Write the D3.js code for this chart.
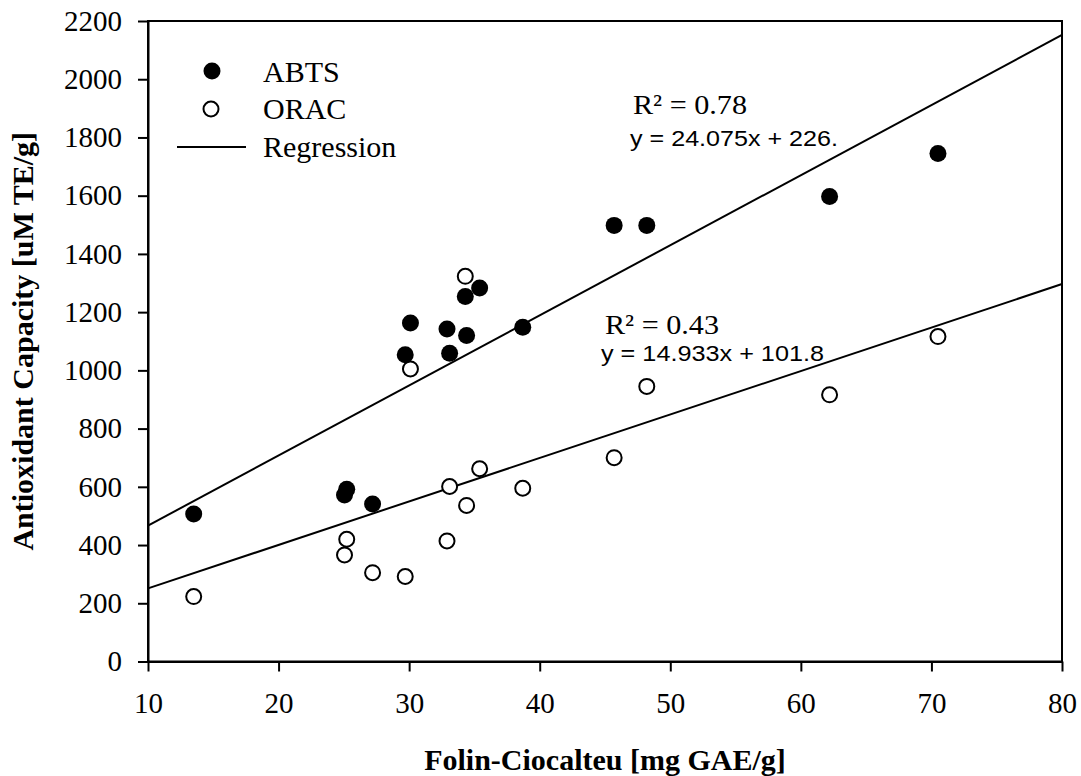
<!DOCTYPE html>
<html>
<head>
<meta charset="utf-8">
<script src="https://cdn.jsdelivr.net/npm/d3@7"></script>
<style>
  body { margin: 0; background: #fff; }
  svg { display: block; }
</style>
</head>
<body>
<svg width="1081" height="776"></svg>
<script>
// Folin-Ciocalteu values (x), one per sample
let fc = [13.5, 25.05, 25.22, 27.2, 29.7, 30.1, 32.9, 33.1, 34.3, 34.4, 35.4, 38.7, 45.7, 48.2, 62.2, 70.5];
// antioxidant capacity per method
let abts = [507, 572, 592, 541, 1054, 1163, 1142, 1059, 1254, 1120, 1283, 1148, 1498, 1498, 1597, 1745];
let orac = [223, 366, 420, 305, 292, 1005, 414, 601, 1323, 536, 662, 595, 700, 945, 916, 1116];

// regression fits as printed on the chart
let slopes = [24.075, 14.933];
let intercepts = [226, 101.8];
let r2Labels = ['R² = 0.78', 'R² = 0.43'];
let eqLabels = ['y = 24.075x + 226.', 'y = 14.933x + 101.8'];

let xTicks = [10, 20, 30, 40, 50, 60, 70, 80];
let yTicks = d3.range(0, 2201, 200);

let svg = d3.select('svg');
let serif = 'Liberation Serif, Times New Roman, serif';
let sans = 'Liberation Sans, Arial, sans-serif';

let x = d3.scaleLinear().domain([10, 80]).range([148, 1062]);
let y = d3.scaleLinear().domain([0, 2200]).range([661.5, 21]);

// frame
svg.append('rect')
  .attr('x', x(10))
  .attr('y', y(2200))
  .attr('width', x(80) - x(10))
  .attr('height', y(0) - y(2200))
  .attr('fill', 'none')
  .attr('stroke', 'black')
  .attr('stroke-width', 2);

let xAxis = svg.append('g')
  .attr('transform', 'translate(0,' + y(0) + ')')
  .call(d3.axisBottom(x).tickValues(xTicks).tickFormat(d3.format('d'))
    .tickSize(10).tickSizeOuter(0).tickPadding(21));
let yAxis = svg.append('g')
  .attr('transform', 'translate(' + x(10) + ',0)')
  .call(d3.axisLeft(y).tickValues(yTicks).tickFormat(d3.format('d'))
    .tickSize(10).tickSizeOuter(0).tickPadding(16));

[xAxis, yAxis].forEach(function(a) {
  a.attr('font-family', serif).attr('font-size', 29);
  a.selectAll('path, line').attr('stroke', 'black').attr('stroke-width', 2);
  a.selectAll('text').attr('fill', 'black');
});

// regression lines
let fits = [0, 1];
svg.append('g')
  .selectAll('line')
  .data(fits)
  .enter()
  .append('line')
  .attr('x1', x(10))
  .attr('x2', x(80))
  .attr('y1', function(i) { return y(slopes[i] * 10 + intercepts[i]); })
  .attr('y2', function(i) { return y(slopes[i] * 80 + intercepts[i]); })
  .attr('stroke', 'black')
  .attr('stroke-width', 2);

// ORAC open circles
svg.append('g')
  .selectAll('circle')
  .data(fc)
  .enter()
  .append('circle')
  .attr('cx', function(d) { return x(d); })
  .attr('cy', function(d, i) { return y(orac[i]); })
  .attr('r', 7.5)
  .attr('fill', 'white')
  .attr('stroke', 'black')
  .attr('stroke-width', 2);

// ABTS filled dots
svg.append('g')
  .selectAll('circle')
  .data(fc)
  .enter()
  .append('circle')
  .attr('cx', function(d) { return x(d); })
  .attr('cy', function(d, i) { return y(abts[i]); })
  .attr('r', 8.5)
  .attr('fill', 'black');

// fit labels (text is a little wider than tall in the original)
let r2Pos = [[633, 114], [605, 334]];
let eqPos = [[630, 146], [601, 361]];
let eqWidth = [208, 223];
fits.forEach(function(i) {
  svg.append('text')
    .attr('x', r2Pos[i][0])
    .attr('y', r2Pos[i][1])
    .attr('font-family', serif)
    .attr('font-size', 28)
    .attr('textLength', 114)
    .attr('lengthAdjust', 'spacingAndGlyphs')
    .text(r2Labels[i]);
  svg.append('text')
    .attr('x', eqPos[i][0])
    .attr('y', eqPos[i][1])
    .attr('font-family', sans)
    .attr('font-size', 22.5)
    .attr('textLength', eqWidth[i])
    .attr('lengthAdjust', 'spacingAndGlyphs')
    .text(eqLabels[i]);
});

// legend
let lg = svg.append('g');
lg.append('circle').attr('cx', 212).attr('cy', 71).attr('r', 8.5).attr('fill', 'black');
lg.append('circle').attr('cx', 211).attr('cy', 109).attr('r', 7.5)
  .attr('fill', 'white').attr('stroke', 'black').attr('stroke-width', 2);
lg.append('line').attr('x1', 177).attr('x2', 246).attr('y1', 147).attr('y2', 147)
  .attr('stroke', 'black').attr('stroke-width', 2);
let legendNames = ['ABTS', 'ORAC', 'Regression'];
let legendY = [82, 119, 157];
lg.selectAll('text')
  .data(legendNames)
  .enter()
  .append('text')
  .attr('x', 263)
  .attr('y', function(d, i) { return legendY[i]; })
  .attr('font-family', serif)
  .attr('font-size', 30)
  .text(function(d) { return d; });

// axis titles
svg.append('text')
  .attr('x', (x(10) + x(80)) / 2)
  .attr('y', 770)
  .attr('text-anchor', 'middle')
  .attr('font-family', serif)
  .attr('font-size', 30)
  .attr('font-weight', 'bold')
  .text('Folin-Ciocalteu [mg GAE/g]');
svg.append('text')
  .attr('transform', 'translate(33,' + (y(0) + y(2200)) / 2 + ') rotate(-90)')
  .attr('text-anchor', 'middle')
  .attr('font-family', serif)
  .attr('font-size', 30)
  .attr('font-weight', 'bold')
  .text('Antioxidant Capacity [uM TE/g]');
</script>
</body>
</html>
